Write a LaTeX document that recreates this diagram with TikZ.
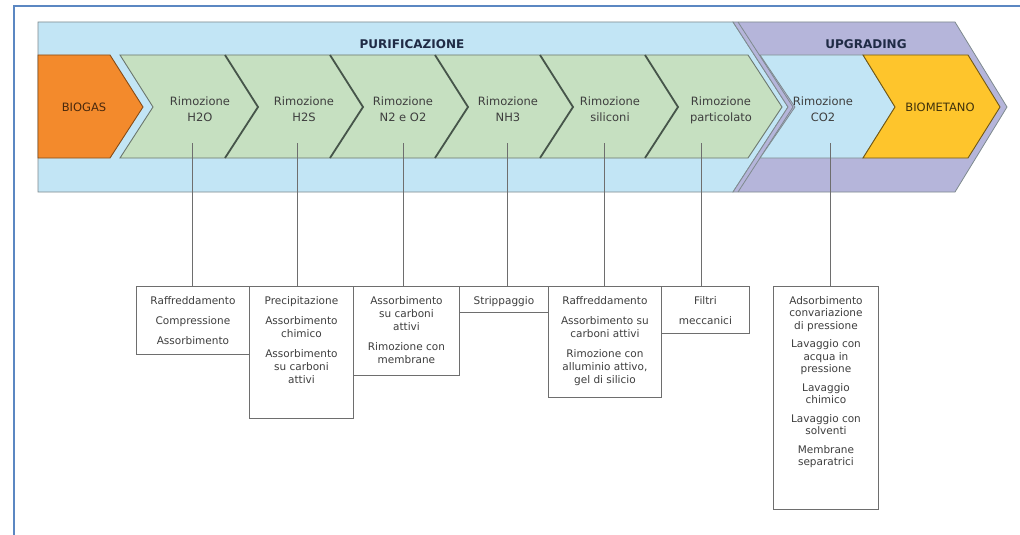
\documentclass[tikz,border=0pt]{standalone}
\usepackage{fontspec}
\setmainfont{DejaVu Sans}
\definecolor{framecol}{HTML}{5B87C2}
\definecolor{bandblue}{HTML}{C2E5F5}
\definecolor{bandpurple}{HTML}{B5B5DA}
\definecolor{greenfill}{HTML}{C6E0C1}
\definecolor{sepgreen}{HTML}{46554A}
\definecolor{orangefill}{HTML}{F38A2C}
\definecolor{yellowfill}{HTML}{FEC52C}
\definecolor{edgegray}{HTML}{7E8A8E}
\definecolor{labelgray}{HTML}{3E3E3E}
\definecolor{titleblue}{HTML}{1F2B45}
\definecolor{boxgray}{HTML}{6E6E6E}
\begin{document}
\begin{tikzpicture}[x=1pt,y=-1pt,
  frameline/.style={draw=framecol, line width=2.2pt},
  bandedge/.style={draw=edgegray, line width=0.8pt},
  sepline/.style={draw=sepgreen, line width=1.8pt},
  lbl/.style={font=\fontsize{11.5}{16}\selectfont, text=labelgray, align=center, inner sep=0pt},
  stagelbl/.style={lbl, anchor=north},
  title/.style={font=\fontsize{12}{14}\selectfont\bfseries, text=titleblue, inner sep=0pt},
  optbox/.style={draw=boxgray, line width=0.9pt, fill=white, inner sep=0pt, anchor=north west},
  boxtxt/.style={font=\fontsize{10.5}{13}\selectfont, text=labelgray, align=center, inner sep=0pt, anchor=north},
  link/.style={draw=boxgray, line width=0.8pt}]

\useasboundingbox (0,0) rectangle (1020,535);
\fill[white] (0,0) rectangle (1020,535);
\draw[frameline] (14,535) -- (14,6) -- (1020,6);

% bands
\draw[bandedge, fill=bandblue] (38,22) -- (733,22) -- (788,107) -- (733,192) -- (38,192) -- cycle;
\draw[bandedge, fill=bandpurple] (733,22) -- (955,22) -- (1007,107) -- (955,192) -- (733,192) -- (788,107) -- cycle;
\draw[bandedge] (738,22) -- (793,107) -- (738,192);

% chevron row
\draw[draw=edgegray, line width=0.8pt, fill=bandblue] (760,55) -- (863,55) -- (895,107) -- (863,158) -- (760,158) -- (795,107) -- cycle;
\draw[draw=black!55!yellowfill, line width=0.9pt, fill=yellowfill] (863,55) -- (968,55) -- (1000,107) -- (968,158) -- (863,158) -- (895,107) -- cycle;
\draw[draw=sepgreen!80, line width=0.9pt, fill=greenfill] (120,55) -- (748,55) -- (782,107) -- (748,158) -- (120,158) -- (153,107) -- cycle;
\foreach \sx in {225,330,435,540,645}
  \draw[sepline] (\sx,55) -- (\sx+33,107) -- (\sx,158);
\draw[draw=black!45!orangefill, line width=0.9pt, fill=orangefill] (38,55) -- (110,55) -- (143,107) -- (110,158) -- (38,158) -- cycle;

% titles
\node[title] (tpur) at (412,44) {PURIFICAZIONE};
\node[title] (tupg) at (866,44) {UPGRADING};

% labels
\node[lbl, text=black!70!orangefill] (biogas) at (84,107) {BIOGAS};
\node[stagelbl] (h2o) at (200,97) {Rimozione\\H2O};
\node[stagelbl] (h2s) at (304,97) {Rimozione\\H2S};
\node[stagelbl] (n2o2) at (403,97) {Rimozione\\N2 e O2};
\node[stagelbl] (nh3) at (508,97) {Rimozione\\NH3};
\node[stagelbl] (sil) at (610,97) {Rimozione\\siliconi};
\node[stagelbl] (part) at (721,97) {Rimozione\\particolato};
\node[stagelbl] (co2) at (823,97) {Rimozione\\CO2};
\node[lbl, text=black!75!yellowfill] (biomet) at (940,107) {BIOMETANO};

% connector start points
\coordinate (k1) at (192,143);
\coordinate (k2) at (297,143);
\coordinate (k3) at (403,143);
\coordinate (k4) at (507,143);
\coordinate (k5) at (604,143);
\coordinate (k6) at (701,143);
\coordinate (k7) at (830,143);

% boxes
\node[optbox, minimum width=113pt, minimum height=68pt] (b1) at (136,286) {};
\node[optbox, minimum width=104pt, minimum height=132pt] (b2) at (249,286) {};
\node[optbox, minimum width=106pt, minimum height=89pt] (b3) at (353,286) {};
\node[optbox, minimum width=89pt, minimum height=26pt] (b4) at (459,286) {};
\node[optbox, minimum width=113pt, minimum height=111pt] (b5) at (548,286) {};
\node[optbox, minimum width=88pt, minimum height=47pt] (b6) at (661,286) {};
\node[optbox, minimum width=105pt, minimum height=223pt] (b7) at (773,286) {};

\foreach \i in {1,...,7}
  \draw[link] (k\i) -- (k\i |- b\i.north);

% box texts
\node[boxtxt] (t1) at ([yshift=-10pt]b1.north) {Raffreddamento\\[7pt]Compressione\\[7pt]Assorbimento};
\node[boxtxt] (t2) at ([yshift=-10pt]b2.north) {Precipitazione\\[7pt]Assorbimento\\chimico\\[7pt]Assorbimento\\su carboni\\attivi};
\node[boxtxt] (t3) at ([yshift=-10pt]b3.north) {Assorbimento\\su carboni\\attivi\\[7pt]Rimozione con\\membrane};
\node[boxtxt] (t4) at ([yshift=-10pt]b4.north) {Strippaggio};
\node[boxtxt] (t5) at ([yshift=-10pt]b5.north) {Raffreddamento\\[7pt]Assorbimento su\\carboni attivi\\[7pt]Rimozione con\\alluminio attivo,\\gel di silicio};
\node[boxtxt] (t6) at ([yshift=-10pt]b6.north) {Filtri\\[7pt]meccanici};
\node[boxtxt, font=\fontsize{10.5}{12.5}\selectfont] (t7) at ([yshift=-10pt]b7.north) {Adsorbimento\\convariazione\\di pressione\\[6pt]Lavaggio con\\acqua in\\pressione\\[6pt]Lavaggio\\chimico\\[6pt]Lavaggio con\\solventi\\[6pt]Membrane\\separatrici};
\end{tikzpicture}
\end{document}
